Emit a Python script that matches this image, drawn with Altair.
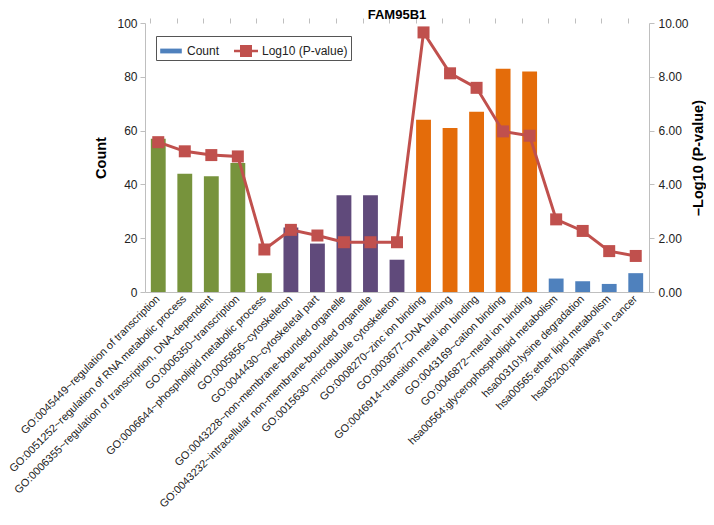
import altair as alt
import pandas as pd

terms = [
    "GO:0045449~regulation of transcription",
    "GO:0051252~regulation of RNA metabolic process",
    "GO:0006355~regulation of transcription, DNA-dependent",
    "GO:0006350~transcription",
    "GO:0006644~phospholipid metabolic process",
    "GO:0005856~cytoskeleton",
    "GO:0044430~cytoskeletal part",
    "GO:0043228~non-membrane-bounded organelle",
    "GO:0043232~intracellular non-membrane-bounded organelle",
    "GO:0015630~microtubule cytoskeleton",
    "GO:0008270~zinc ion binding",
    "GO:0003677~DNA binding",
    "GO:0046914~transition metal ion binding",
    "GO:0043169~cation binding",
    "GO:0046872~metal ion binding",
    "hsa00564:glycerophospholipid metabolism",
    "hsa00310:lysine degradation",
    "hsa00565:ether lipid metabolism",
    "hsa05200:pathways in cancer",
]
counts = [57, 44, 43, 48, 7, 24, 18, 36, 36, 12, 64, 61, 67, 83, 82, 5, 4, 3, 7]
neg_log_p = [5.57, 5.23, 5.09, 5.04, 1.58, 2.31, 2.10, 1.85, 1.85, 1.85,
             9.65, 8.13, 7.59, 5.97, 5.81, 2.70, 2.27, 1.52, 1.34]
groups = ["BP"] * 5 + ["CC"] * 5 + ["MF"] * 5 + ["KEGG"] * 4
group_names = ["BP", "CC", "MF", "KEGG"]
group_colors = ["#77933C", "#604A7B", "#E46C0A", "#4F81BD"]

series_names = ["Count", "Log10 (P-value)"]
series_colors = ["#4F81BD", "#C0504D"]
series_shapes = [
    "M-0.9,-0.2 H0.9 V0.2 H-0.9 Z",
    "M-1,-0.11 H-0.5 V-0.5 H0.5 V-0.11 H1 V0.11 H0.5 V0.5 H-0.5 V0.11 H-1 Z",
]

df = pd.DataFrame({"term": terms, "count": counts, "logp": neg_log_p, "group": groups})
leg_df = pd.DataFrame({"series": series_names})

FONT = "Liberation Sans"
AXIS_GRAY = "#BFBFBF"
TEXT = "#222222"

xscale = alt.Scale(paddingInner=0.44, paddingOuter=0.22)

bars = alt.Chart(df).mark_bar().encode(
    x=alt.X("term:N", sort=terms, scale=xscale, title=None,
            axis=alt.Axis(labelAngle=-45, labelAlign="right", labelBaseline="middle",
                          labelLimit=500, labelPadding=5, ticks=False, domainColor=AXIS_GRAY,
                          labelFontSize=10.9, labelColor=TEXT, labelFont=FONT)),
    y=alt.Y("count:Q", scale=alt.Scale(domain=[0, 100], nice=False),
            axis=alt.Axis(title="Count", values=[0, 20, 40, 60, 80, 100], grid=False,
                          domainColor=AXIS_GRAY, tickColor=AXIS_GRAY, tickSize=5,
                          labelFontSize=12, labelColor=TEXT, labelFont=FONT, labelPadding=3,
                          titleFont=FONT, titleFontSize=14.5, titleFontWeight="bold",
                          titleColor="#000000", titlePadding=8)),
    color=alt.Color("group:N", scale=alt.Scale(domain=group_names, range=group_colors), legend=None),
)

line = alt.Chart(df).mark_line(
    color="#C0504D", strokeWidth=3,
    point=alt.OverlayMarkDef(shape="square", size=144, filled=True, color="#C0504D", opacity=1),
).encode(
    x=alt.X("term:N", sort=terms, scale=xscale, title=None,
            axis=alt.Axis(labels=False, ticks=True, bandPosition=0, tickColor=AXIS_GRAY,
                          tickSize=5, domain=False)),
    y=alt.Y("logp:Q", scale=alt.Scale(domain=[0, 10], nice=False),
            axis=alt.Axis(orient="right", title="\u2013Log10 (P-value)", values=[0, 2, 4, 6, 8, 10],
                          format=".2f", grid=False, domainColor=AXIS_GRAY, tickColor=AXIS_GRAY,
                          tickSize=5, labelFontSize=12, labelColor=TEXT, labelFont=FONT,
                          labelPadding=4, titleFont=FONT, titleFontSize=14.5,
                          titleFontWeight="bold", titleColor="#000000", titleAngle=270,
                          titleBaseline="top", titlePadding=3)),
)

legend = alt.Legend(
    title=None, orient="none", legendX=11, legendY=13, direction="horizontal",
    symbolSize=576, symbolStrokeWidth=0, symbolOpacity=1, labelFont=FONT, labelFontSize=12,
    labelColor=TEXT, labelOffset=4, columnPadding=14, padding=3, strokeColor="#555555",
    fillColor="white", cornerRadius=0,
)

leg = alt.Chart(leg_df).mark_point(filled=True, opacity=0).encode(
    color=alt.Color("series:N", scale=alt.Scale(domain=series_names, range=series_colors),
                    legend=legend),
    shape=alt.Shape("series:N", scale=alt.Scale(domain=series_names, range=series_shapes),
                    legend=legend),
)

chart = alt.layer(bars, line, leg).resolve_scale(
    y="independent", color="independent", shape="independent"
).resolve_axis(
    x="independent", y="independent"
).properties(
    width=504, height=269,
    title=alt.Title("FAM95B1", font=FONT, fontSize=13, fontWeight="bold", color="#000000",
                    anchor="middle", offset=3, dy=8),
    autosize=alt.AutoSizeParams(type="none"),
    padding={"left": 137, "top": 15, "right": 57, "bottom": 224},
).configure_view(stroke=None)

chart.save("out.html", embed_options={"renderer": "svg", "actions": False})
